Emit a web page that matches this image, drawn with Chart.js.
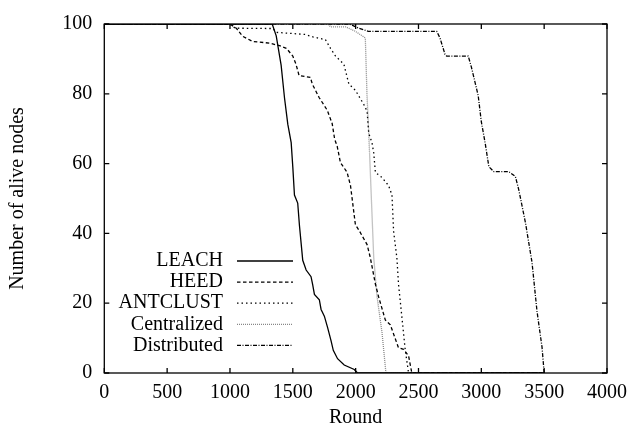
<!DOCTYPE html>
<html>
<head>
<meta charset="utf-8">
<script src="https://cdn.jsdelivr.net/npm/chart.js@4/dist/chart.umd.min.js"></script>
<style>
  body { margin: 0; background: #fff; }
</style>
</head>
<body>
<canvas id="grafico" width="635" height="434"></canvas>
<script>
// values (round, alive nodes)
const leachRound = [0, 1336, 1368, 1407, 1434, 1460, 1487, 1500, 1513, 1539, 1553, 1579, 1606, 1645, 1658, 1672, 1711, 1725, 1751, 1777, 1804, 1822, 1856, 1909, 1989, 2015, 3500];
const leachNodes = [100, 100, 96.6, 88.2, 78.8, 71.3, 66, 59, 51, 48.7, 42.2, 32.3, 29.5, 27.6, 25.3, 22.5, 21, 18.2, 16.3, 13, 9.3, 6.5, 4.1, 2.3, 1, 0, 0];

const heedRound = [0, 1000, 1050, 1100, 1180, 1320, 1400, 1450, 1500, 1525, 1550, 1640, 1655, 1708, 1774, 1813, 1833, 1853, 1879, 1932, 1959, 1998, 2025, 2091, 2117, 2157, 2183, 2236, 2276, 2341, 2381, 2421, 2447, 3500];
const heedNodes = [100, 100, 98.8, 96.5, 95, 94.5, 93.7, 93, 90.8, 88.5, 85.2, 84.7, 82.8, 79, 75.3, 71.5, 67, 65, 60.3, 57.5, 53.7, 42.5, 41, 36.8, 33, 25.5, 21.8, 15.2, 13.8, 7.2, 6.8, 4.9, 0, 0];

const antRound = [0, 1000, 1040, 1340, 1370, 1600, 1660, 1760, 1800, 1840, 1906, 1946, 1998, 2064, 2091, 2104, 2130, 2144, 2157, 2210, 2262, 2289, 2302, 2328, 2341, 2368, 2394, 2421, 3500];
const antNodes = [100, 100, 98.8, 98.7, 97.6, 97, 96.3, 95.5, 93, 90.8, 88.5, 82.8, 81, 77, 75, 68.7, 66, 63, 57.5, 56, 53.7, 51, 40.6, 33, 25.5, 16, 6.8, 0, 0];

const centRound = [0, 1780, 1800, 1920, 1998, 2077, 2090, 2104, 2144, 2170, 2210, 2241, 3500];
const centNodes = [100, 100, 99.2, 99.2, 97.9, 96, 80, 69, 33, 22, 11.5, 0, 0];

const distRound = [0, 1950, 2025, 2100, 2645, 2671, 2711, 2724, 2896, 2922, 2975, 3000, 3030, 3060, 3100, 3218, 3271, 3298, 3351, 3403, 3443, 3483, 3500];
const distNodes = [100, 100, 98.8, 97.9, 97.9, 96, 91.3, 90.8, 90.8, 87.5, 79.5, 72, 66, 59.1, 57.7, 57.7, 56.3, 52.5, 43.1, 31.8, 17.7, 7.4, 0];

const seriesNames = ["LEACH", "HEED", "ANTCLUST", "Centralized", "Distributed"];
const xTicks = [0, 500, 1000, 1500, 2000, 2500, 3000, 3500, 4000];
const yTicks = [0, 20, 40, 60, 80, 100];

const fonte = { family: "'Liberation Serif', 'Times New Roman', serif", size: 20 };

function pares(xs, ys) {
  return xs.map((x, i) => ({ x: x, y: ys[i] }));
}

function serie(nome, xs, ys, cor, traco) {
  return {
    label: nome,
    data: pares(xs, ys),
    borderColor: cor,
    borderWidth: 1.3,
    borderDash: traco,
    pointRadius: 0,
    tension: 0,
    fill: false
  };
}

// moldura com marcas para dentro nos quatro lados (estilo gnuplot)
const moldura = {
  id: "moldura",
  afterDatasetsDraw(chart) {
    const ctx = chart.ctx;
    const a = chart.chartArea;
    const sx = chart.scales.x, sy = chart.scales.y;
    const L = 5;
    ctx.save();
    ctx.strokeStyle = "#000";
    ctx.lineWidth = 1.3;
    ctx.setLineDash([]);
    ctx.strokeRect(a.left, a.top, a.right - a.left, a.bottom - a.top);
    ctx.beginPath();
    xTicks.forEach(v => {
      const px = sx.getPixelForValue(v);
      ctx.moveTo(px, a.bottom); ctx.lineTo(px, a.bottom - L);
      ctx.moveTo(px, a.top); ctx.lineTo(px, a.top + L);
    });
    yTicks.forEach(v => {
      const py = sy.getPixelForValue(v);
      ctx.moveTo(a.left, py); ctx.lineTo(a.left + L, py);
      ctx.moveTo(a.right, py); ctx.lineTo(a.right - L, py);
    });
    ctx.stroke();
    ctx.restore();
  }
};

// legenda: texto alinhado à direita, amostra de linha depois
const legenda = {
  id: "legenda",
  afterDraw(chart) {
    const ctx = chart.ctx;
    const textoX = 223, linhaIni = 237, linhaFim = 293;
    const y0 = 261, passo = 21.1;
    ctx.save();
    ctx.font = fonte.size + "px " + fonte.family;
    ctx.textAlign = "right";
    ctx.textBaseline = "middle";
    chart.data.datasets.forEach((ds, i) => {
      const y = y0 + i * passo;
      ctx.fillStyle = "#000";
      ctx.fillText(ds.label, textoX, y);
      ctx.strokeStyle = ds.borderColor;
      ctx.lineWidth = ds.borderWidth;
      ctx.setLineDash(ds.borderDash || []);
      ctx.beginPath();
      ctx.moveTo(linhaIni, y);
      ctx.lineTo(linhaFim, y);
      ctx.stroke();
    });
    ctx.restore();
  }
};

const ctx = document.getElementById("grafico").getContext("2d");
const grafico = new Chart(ctx, {
  type: "line",
  data: {
    datasets: [
      serie(seriesNames[0], leachRound, leachNodes, "#000", []),
      serie(seriesNames[1], heedRound, heedNodes, "#000", [3.5, 2.5]),
      serie(seriesNames[2], antRound, antNodes, "#000", [1.5, 3]),
      serie(seriesNames[3], centRound, centNodes, "#888", [1, 1]),
      serie(seriesNames[4], distRound, distNodes, "#000", [4, 1.5, 1, 1.5])
    ]
  },
  options: {
    responsive: false,
    animation: false,
    devicePixelRatio: 1,
    layout: { padding: { top: 18, right: 26.5, left: 0, bottom: 0 } },
    plugins: { legend: { display: false }, tooltip: { enabled: false } },
    scales: {
      x: {
        type: "linear",
        min: 0, max: 4000,
        afterFit: s => { s.height = 61; },
        afterBuildTicks: s => { s.ticks = xTicks.map(v => ({ value: v })); },
        ticks: { font: fonte, color: "#000", padding: 8, maxRotation: 0, callback: v => String(v) },
        grid: { display: false, drawTicks: false },
        border: { display: false },
        title: { display: true, text: "Round", font: fonte, color: "#000", padding: { top: 0, bottom: 4 } }
      },
      y: {
        min: 0, max: 100,
        afterFit: s => { s.width = 104.3; },
        afterBuildTicks: s => { s.ticks = yTicks.map(v => ({ value: v })); },
        ticks: { font: fonte, color: "#000", padding: 12, callback: v => String(v) },
        grid: { display: false, drawTicks: false },
        border: { display: false },
        title: { display: true, text: "Number of alive nodes", font: fonte, color: "#000", padding: { top: 6, bottom: 0 } }
      }
    }
  },
  plugins: [moldura, legenda]
});
</script>
</body>
</html>
